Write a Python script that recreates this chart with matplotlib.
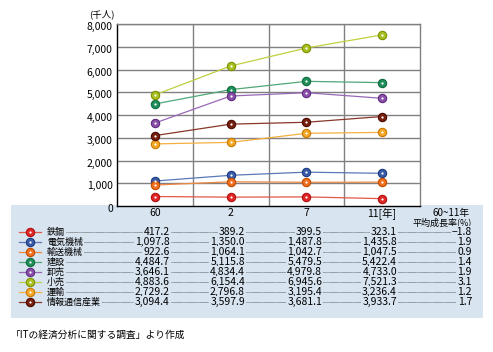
import matplotlib
matplotlib.use('Agg')
import matplotlib.pyplot as plt
import matplotlib.transforms as mtransforms
from matplotlib.patches import Rectangle

plt.rcParams['font.family'] = ['Noto Sans CJK JP', 'DejaVu Sans']

# data
years = ['60', '2', '7', '11[年]']
industries = ['鉄鋼', '電気機械', '輸送機械', '建設', '卸売', '小売', '運輸', '情報通信産業']
v_steel = [417.2, 389.2, 399.5, 323.1]
v_elec = [1097.8, 1350.0, 1487.8, 1435.8]
v_trans = [922.6, 1064.1, 1042.7, 1047.5]
v_const = [4484.7, 5115.8, 5479.5, 5422.4]
v_whole = [3646.1, 4834.4, 4979.8, 4733.0]
v_retail = [4883.6, 6154.4, 6945.6, 7521.3]
v_transp = [2729.2, 2796.8, 3195.4, 3236.4]
v_ict = [3094.4, 3597.9, 3681.1, 3933.7]
growth = [-1.8, 1.9, 0.9, 1.4, 1.9, 3.1, 1.2, 1.7]
y_ticks = [0, 1000, 2000, 3000, 4000, 5000, 6000, 7000, 8000]

series = [v_steel, v_elec, v_trans, v_const, v_whole, v_retail, v_transp, v_ict]
colors = ['#e02828', '#3a5ca8', '#f07020', '#20905a', '#8a4fa8', '#a8c020', '#f4a828', '#782010']
edges = ['#b01010', '#1c3a80', '#c04c00', '#106a40', '#5e2c80', '#7c9000', '#c87800', '#4a0800']
line_cols = ['#e05848', '#5a78b8', '#f08840', '#50a878', '#9868b8', '#c0d040', '#f4b040', '#883828']

fig = plt.figure(figsize=(4.93, 3.52), dpi=100)
W, H = 493, 352

# background / table layer in pixel coordinates
tb = fig.add_axes([0, 0, 1, 1], zorder=0)
tb.set_xlim(0, W)
tb.set_ylim(H, 0)
tb.axis('off')
bg = '#d8e4f0'
tb.add_patch(Rectangle((11, 205), 472, 113, facecolor=bg, edgecolor='none'))

# main chart
ax = fig.add_axes([117 / W, 1 - 206 / H, 303 / W, 182 / H], zorder=2)
ax.set_facecolor('white')
xs = [0.5, 1.5, 2.5, 3.5]
for vals, c, e, lc in zip(series, colors, edges, line_cols):
    ax.plot(xs, vals, color=lc, lw=0.9, zorder=3)
    ax.plot(xs, vals, 'o', ms=6, mfc=c, mec=e, mew=0.8, zorder=4)
    ax.plot(xs, vals, 'o', ms=1.6, mfc='white', mec='none', zorder=5)
ax.set_xlim(0, 4)
ax.set_ylim(0, 8000)
ax.set_yticks(y_ticks)
ax.set_yticklabels([f'{t:,}' for t in y_ticks], fontsize=7.5)
ax.set_xticks(xs)
ax.set_xticklabels(years, fontsize=7.5)
ax.tick_params(length=0, pad=3)
ax.tick_params(axis='x', pad=1.5)
# nudge y labels down a bit, like the reference
shift = mtransforms.ScaledTranslation(0, -2 / 100, fig.dpi_scale_trans)
for lab in ax.get_yticklabels():
    lab.set_transform(lab.get_transform() + shift)
for t in y_ticks[1:]:
    ax.axhline(t, color='#808080', lw=1, zorder=1)
for x in [1, 2, 3]:
    ax.axvline(x, color='#808080', lw=1, zorder=1)
ax.spines['top'].set_color('#808080')
ax.spines['right'].set_color('#808080')
ax.spines['left'].set_color('black')
ax.spines['bottom'].set_color('black')
for s in ax.spines.values():
    s.set_linewidth(1)

tb.text(102, 14, '(千人)', fontsize=6.8, ha='center', va='center')

# table
fs = 6.5
fn = 7.5
col_right = [170, 245, 322, 397]
tb.text(470, 213, '60~11年', fontsize=fs + 0.5, ha='right', va='center')
tb.text(472, 222, '平均成長率(%)', fontsize=fs, ha='right', va='center')
for i, name in enumerate(industries):
    y = 232 + i * 10
    tb.plot([19, 41], [y, y], color=line_cols[i], lw=0.9)
    tb.plot([30], [y], 'o', ms=6, mfc=colors[i], mec=edges[i], mew=0.8)
    tb.plot([30], [y], 'o', ms=1.6, mfc='white', mec='none')
    tb.plot([50, 470], [y, y], color='#222222', lw=0.6, ls=(0, (0.5, 0.8)), zorder=1)
    box = dict(facecolor=bg, edgecolor='none', pad=0.8)
    tb.text(47, y, name, fontsize=fs, ha='left', va='center', bbox=box, zorder=3)
    for j in range(4):
        tb.text(col_right[j], y, f'{series[i][j]:,.1f}', fontsize=fn, ha='right',
                va='center', bbox=box, zorder=3)
    g = growth[i]
    gs = f'{g:.1f}' if g >= 0 else f'−{abs(g):.1f}'
    tb.text(472, y, gs, fontsize=fn, ha='right', va='center', bbox=box, zorder=3)

tb.text(11, 335, '「ITの経済分析に関する調査」より作成', fontsize=7, ha='left', va='center')

fig.savefig('out.png', dpi=100)
